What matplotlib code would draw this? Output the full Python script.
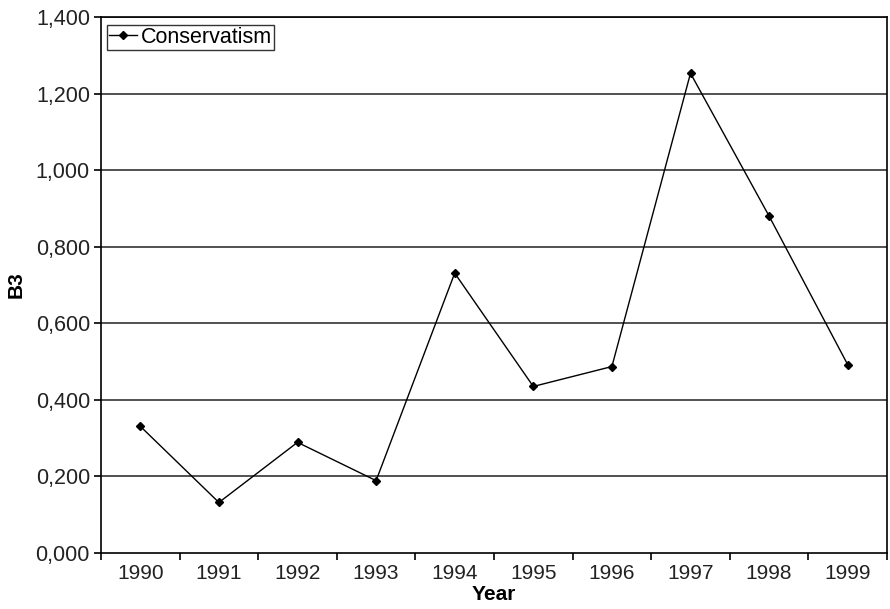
import numpy as np
import matplotlib
matplotlib.use('Agg')
from matplotlib import pyplot as plt

plt.rcParams['font.family'] = ['Liberation Sans', 'DejaVu Sans']

# B3 conservatism measure by year
years = ['1990', '1991', '1992', '1993', '1994', '1995', '1996', '1997', '1998', '1999']
b3 = [0.331, 0.132, 0.289, 0.189, 0.731, 0.435, 0.487, 1.253, 0.880, 0.492]
yticks = [0.0, 0.2, 0.4, 0.6, 0.8, 1.0, 1.2, 1.4]

fig = plt.figure(figsize=(8.9, 6.09), dpi=100)
ax = fig.add_axes([101/890, 1 - 553/609, 786/890, 536/609])

x = np.arange(len(years))
ax.plot(x, b3, color='black', lw=1.0, marker='D', ms=4.0, label='Conservatism', zorder=3)

# horizontal gridlines
for v in yticks[1:]:
    ax.axhline(v, color='#222222', lw=1.1, zorder=1)

ax.set_xlim(-0.5, len(years) - 0.5)
ax.set_ylim(0, 1.4)
ax.set_yticks(yticks)
ax.set_yticklabels([f'{v:.3f}'.replace('.', ',') for v in yticks])

# category labels in the middle, tick marks on the boundaries
ax.set_xticks(x)
ax.set_xticklabels(years)
ax.set_xticks(np.arange(-0.5, len(years)), minor=True)
ax.tick_params(axis='x', which='major', length=0, pad=8, labelsize=15, colors='#222222')
ax.tick_params(axis='x', which='minor', length=5, width=1.2, direction='out')
ax.tick_params(axis='y', length=5, width=1.2, direction='out', pad=3, labelsize=15.5, colors='#222222')
ax.tick_params(axis='both', color='black')

for s in ax.spines.values():
    s.set_linewidth(1.2)
    s.set_color('black')

ax.set_xlabel('Year', fontsize=15, fontweight='bold', labelpad=1)
ax.set_ylabel('B3', fontsize=15, fontweight='bold', labelpad=7)

leg = ax.legend(loc='upper left', bbox_to_anchor=(0.008, 0.986), fontsize=15.5,
                frameon=True, fancybox=False, borderpad=0.1, handlelength=1.3,
                handletextpad=0.15, borderaxespad=0)
leg.get_frame().set_edgecolor('black')
leg.get_frame().set_linewidth(1.0)

fig.savefig('out.png', dpi=100)
